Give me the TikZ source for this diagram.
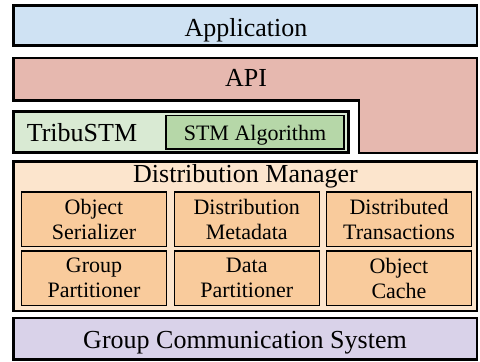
\documentclass[tikz,border=0pt]{standalone}
\usepackage{fontspec}
\setmainfont{Liberation Serif}
\newfontfamily\lserif{Liberation Serif}
\definecolor{appblue}{HTML}{CFE2F3}
\definecolor{apired}{HTML}{E6B8AF}
\definecolor{tribugreen}{HTML}{D9EAD3}
\definecolor{stmgreen}{HTML}{B6D7A8}
\definecolor{dmpeach}{HTML}{FCE5CD}
\definecolor{cellorange}{HTML}{F9CB9C}
\definecolor{gcspurple}{HTML}{D9D2E9}
\tikzset{
  bigtext/.style={font=\lserif\fontsize{26}{28}\selectfont},
  smalltext/.style={font=\lserif\fontsize{22}{25}\selectfont},
  layerbox/.style={draw=black, line width=2.8pt, inner sep=0pt, outer sep=0pt, rectangle},
  cellbox/.style={draw=black, line width=1.5pt, fill=cellorange, rectangle, inner sep=0pt,
    minimum width=145pt, minimum height=54.5pt, align=center, smalltext},
  plainlabel/.style={inner sep=0pt, anchor=base, bigtext}}
\begin{document}
\begin{tikzpicture}[x=1pt,y=-1pt]
\useasboundingbox (0,0) rectangle (480,362);
% Application
\node[layerbox, fill=appblue, minimum width=463.5pt, minimum height=40.2pt] (app) at (245.25,25.4) {};
\node[plainlabel] (applabel) at (246,36) {Application};
% API (L-shaped)
\draw[layerbox, fill=apired] (13.5,58) -- (477,58) -- (477,153) -- (359,153) -- (359,100.5) -- (13.5,100.5) -- cycle;
\node[plainlabel] (api) at (246,86.5) {API};
% TribuSTM
\node[layerbox, fill=tribugreen, minimum width=335pt, minimum height=41pt] (tribu) at (181,132) {};
\node[plainlabel] (tribulabel) at (82,141.5) {TribuSTM};
\node[draw=black, line width=1.3pt, fill=stmgreen, rectangle, inner sep=0pt,
  minimum width=178pt, minimum height=33.5pt, text height=15.5pt, text depth=0pt,
  smalltext] (stm) at (255,132.25) {STM Algorithm};
% Distribution Manager
\node[layerbox, fill=dmpeach, minimum width=463.5pt, minimum height=149.5pt] (dm) at (245.25,236.25) {};
\node[plainlabel] (dmlabel) at (245.5,182.5) {Distribution Manager};
\node[cellbox] (os) at (94,219.25) {Object\\Serializer};
\node[cellbox] (dmeta) at (246.75,219.25) {Distribution\\Metadata};
\node[cellbox] (dt) at (399,219.25) {Distributed\\Transactions};
\node[cellbox] (gp) at (94,278) {Group\\Partitioner};
\node[cellbox] (dp) at (246.75,278) {Data\\Partitioner};
\node[cellbox] (oc) at (399,278) {Object\\Cache};
% Group Communication System
\node[layerbox, fill=gcspurple, minimum width=463.5pt, minimum height=41.5pt] (gcs) at (245.25,338.75) {};
\node[plainlabel] (gcslabel) at (245,348) {Group Communication System};
\end{tikzpicture}
\end{document}
